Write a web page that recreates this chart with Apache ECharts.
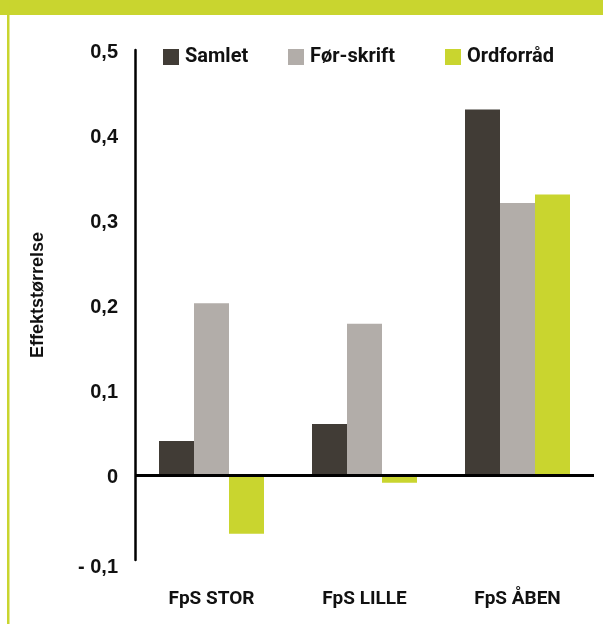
<!DOCTYPE html>
<html>
<head>
<meta charset="utf-8">
<script src="https://cdn.jsdelivr.net/npm/echarts@6/dist/echarts.min.js"></script>
<style>
  html, body { margin: 0; padding: 0; background: #ffffff; }
  #chart { width: 603px; height: 626px; }
</style>
</head>
<body>
<div id="chart"></div>
<script>
// Effect sizes per programme variant
const categories = ['FpS STOR', 'FpS LILLE', 'FpS ÅBEN'];
const seriesNames = ['Samlet', 'Før-skrift', 'Ordforråd'];
const samlet = [0.04, 0.06, 0.43];
const forSkrift = [0.202, 0.178, 0.32];
const ordforraad = [-0.069, -0.009, 0.33];
const yTickLabels = { '-0.1': '- 0,1', '0': '0', '0.1': '0,1', '0.2': '0,2', '0.3': '0,3', '0.4': '0,4', '0.5': '0,5' };
const yAxisTitle = 'Effektstørrelse';

const colors = ['#413c36', '#b2ada9', '#c9d52f'];
const font = 'Roboto, "Liberation Sans", sans-serif';
const sansFont = '"Liberation Sans", Arial, sans-serif';

const chart = echarts.init(document.getElementById('chart'), null, { renderer: 'canvas' });

function legendFor(name, left) {
  return {
    data: [name],
    left: left,
    top: 42,
    itemWidth: 16,
    itemHeight: 16,
    icon: 'rect',
    selectedMode: false,
    textStyle: { fontFamily: font, fontWeight: 'bold', fontSize: 20, color: '#111111', padding: [0, 0, 0, 1] }
  };
}

const values = [samlet, forSkrift, ordforraad];
const tickStyle = { fontFamily: sansFont, fontWeight: 'bold', fontSize: 20, color: '#111111' };

chart.setOption({
  animation: false,
  color: colors,
  graphic: [
    { type: 'rect', left: 0, top: 0, shape: { width: 603, height: 15 }, style: { fill: '#c9d52f' } },
    { type: 'rect', left: 7, top: 0, shape: { width: 2.5, height: 624 }, style: { fill: '#c9d52f' } },
    {
      type: 'text', x: 38, y: 295, rotation: Math.PI / 2,
      style: { text: yAxisTitle, fontFamily: sansFont, fontWeight: 'bold', fontSize: 18, fill: '#111111', align: 'center', verticalAlign: 'middle' }
    }
  ],
  legend: [legendFor(seriesNames[0], 158), legendFor(seriesNames[1], 283), legendFor(seriesNames[2], 440)],
  grid: { left: 135, right: 9, top: 50, bottom: 66, containLabel: false },
  xAxis: {
    type: 'category',
    data: categories,
    axisLine: { show: false },
    axisTick: { show: false },
    axisLabel: { margin: 30, fontFamily: font, fontWeight: 'bold', fontSize: 19, color: '#111111' }
  },
  yAxis: {
    type: 'value',
    min: -0.1,
    max: 0.5,
    interval: 0.1,
    axisLine: { show: true, lineStyle: { color: '#000000', width: 2.5 } },
    axisTick: { show: false },
    splitLine: { show: false },
    axisLabel: {
      margin: 17,
      formatter: function (v) {
        const key = String(Math.round(v * 10) / 10);
        const txt = yTickLabels[key] || '';
        return key === '-0.1' ? '{neg|' + txt + '}' : '{pos|' + txt + '}';
      },
      rich: {
        pos: Object.assign({ padding: [4, 0, 0, 0] }, tickStyle),
        neg: Object.assign({ padding: [14, 0, 0, 0] }, tickStyle)
      }
    }
  },
  series: seriesNames.map(function (name, i) {
    const s = {
      name: name,
      type: 'bar',
      data: values[i],
      barWidth: 35,
      barGap: '0%',
      itemStyle: { color: colors[i] }
    };
    if (i === 0) {
      s.markLine = {
        silent: true,
        symbol: ['none', 'none'],
        label: { show: false },
        lineStyle: { color: '#000000', width: 3, type: 'solid' },
        data: [{ yAxis: 0 }]
      };
    }
    return s;
  })
});
</script>
</body>
</html>
